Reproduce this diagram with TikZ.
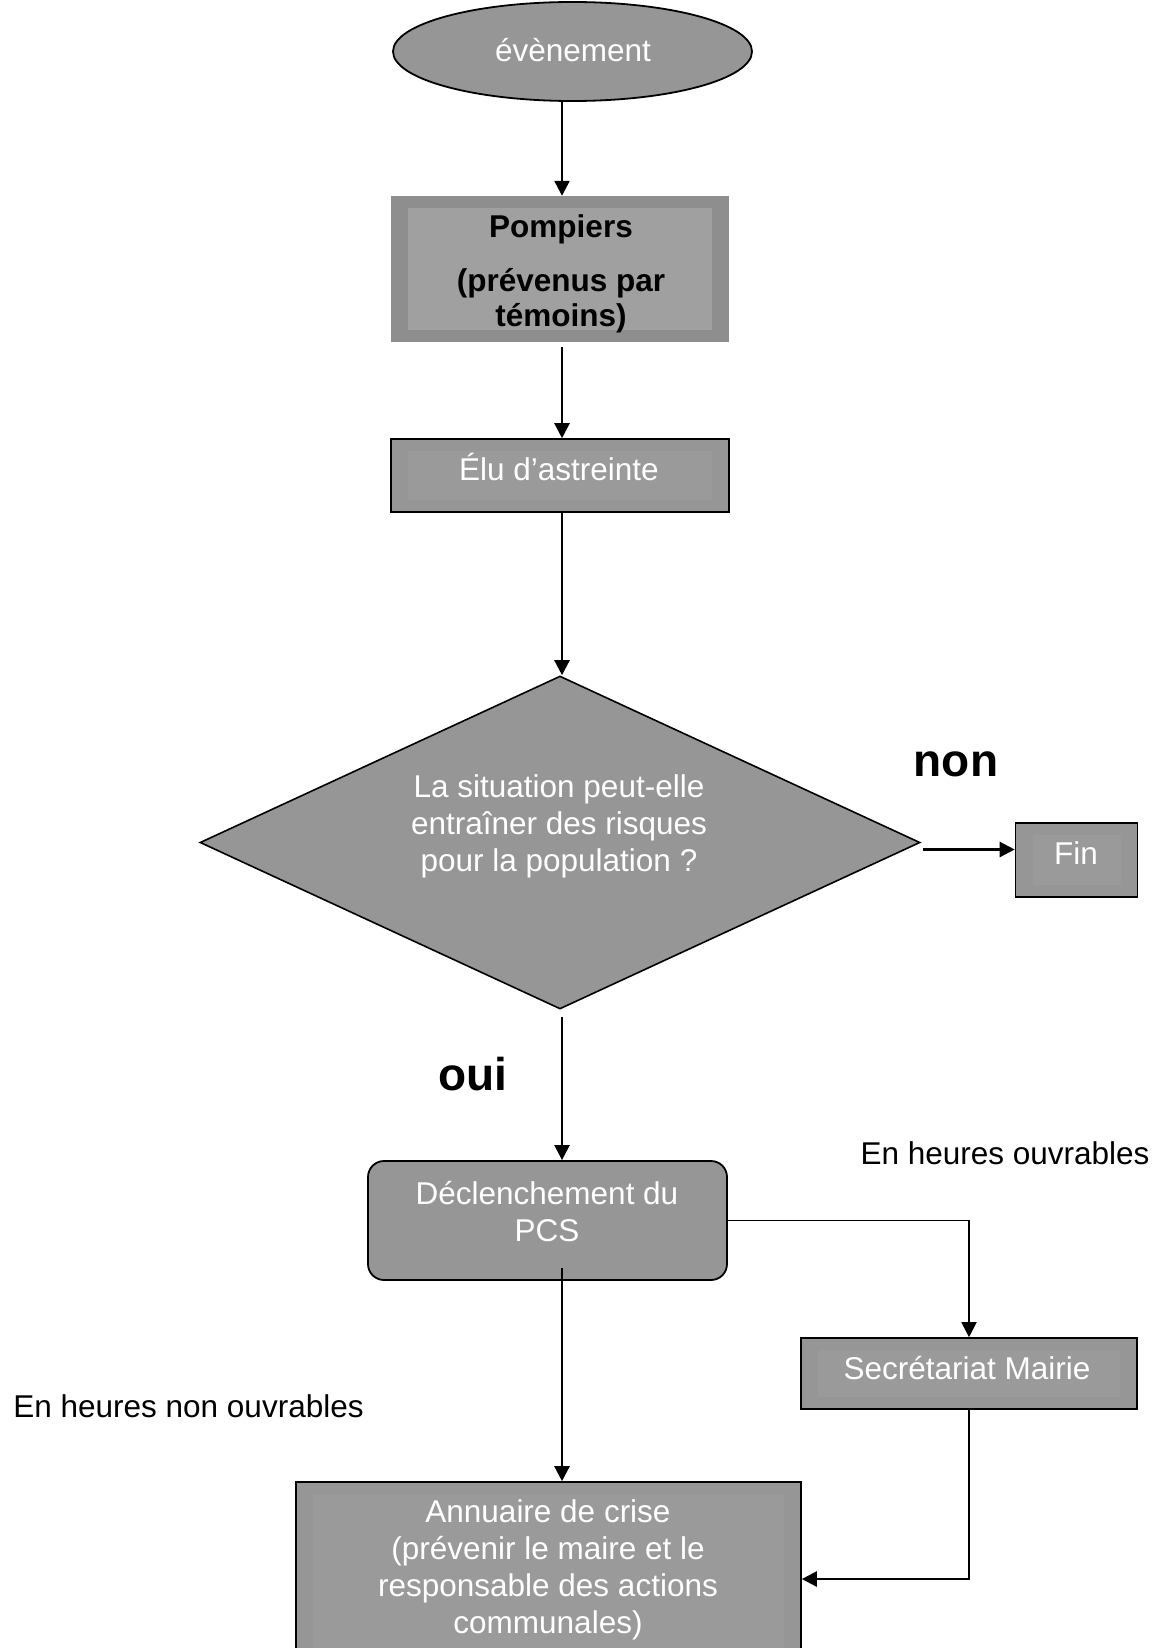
\documentclass[tikz,border=0pt]{standalone}
\usepackage{fontspec}
\setmainfont{Liberation Sans}
\usetikzlibrary{shapes.geometric,arrows.meta,calc}
\definecolor{boxgray}{RGB}{150,150,150}
\definecolor{innergray}{RGB}{154,154,154}
\definecolor{pompout}{RGB}{142,142,142}
\definecolor{pompin}{RGB}{160,160,160}
\tikzset{
  basefont/.style={font=\fontsize{31.5}{37}\selectfont},
  gbox/.style={draw=black, line width=1.6pt, fill=boxgray, inner sep=0pt,
    path picture={\fill[innergray] ([xshift=17pt,yshift=-12pt]path picture bounding box.north west) rectangle ([xshift=-17pt,yshift=12pt]path picture bounding box.south east);}},
  wtxt/.style={basefont, text=white, align=center, inner sep=0pt},
  btxt/.style={basefont, text=black, align=center, inner sep=0pt},
  bigbold/.style={font=\fontsize{46}{50}\selectfont\bfseries, inner sep=0pt},
  arr/.style={line width=2.4pt, -{Triangle[length=15pt,width=15pt]}},
}
\begin{document}
\begin{tikzpicture}[x=1pt,y=-1pt]
\useasboundingbox (0,0) rectangle (1159,1648);
\clip (0,0) rectangle (1159,1648);
\fill[white] (0,0) rectangle (1159,1648);
\coordinate (cx) at (562,0);

% event
\node[ellipse, draw=black, line width=1.8pt, fill=boxgray, minimum width=359pt, minimum height=99pt, inner sep=0pt] (ev) at (572.5,51.5) {};
\node[wtxt] (evt) at (573,50) {évènement};

% Pompiers
\node[rectangle, fill=pompout, minimum width=338pt, minimum height=146pt, inner sep=0pt,
  path picture={\fill[pompin] ([xshift=17pt,yshift=-12pt]path picture bounding box.north west) rectangle ([xshift=-17pt,yshift=12pt]path picture bounding box.south east);}] (pomp) at (560,269) {};
\node[btxt, font=\fontsize{31.5}{35}\selectfont\bfseries] (pompt) at (561,274) {Pompiers\\[19pt](prévenus par\\témoins)};

% Elu
\node[gbox, minimum width=338pt, minimum height=73pt] (elu) at (560,475.5) {};
\node[wtxt] (elut) at (559,467) {Élu d’astreinte};

% Diamond
\node[diamond, draw=black, line width=1.6pt, fill=boxgray, aspect=2.16, minimum width=720pt, minimum height=333pt, inner sep=0pt] (dia) at (560,842.5) {};
\node[wtxt] (diat) at (559,826) {La situation peut-elle\\entraîner des risques\\pour la population ?};

% Fin
\node[gbox, minimum width=122pt, minimum height=74pt] (fin) at (1076.5,860) {};
\node[wtxt] (fint) at (1076,853) {Fin};

% PCS
\node[rectangle, rounded corners=16pt, draw=black, line width=1.8pt, fill=boxgray, minimum width=359pt, minimum height=119pt, inner sep=0pt] (pcs) at (547.5,1220.5) {};
\node[wtxt] (pcst) at (547,1212) {Déclenchement du\\PCS};

% Secretariat
\node[gbox, minimum width=336pt, minimum height=71pt] (sec) at (969,1373.5) {};
\node[wtxt] (sect) at (967,1368) {Secrétariat Mairie};

% Annuaire
\node[gbox, minimum width=505pt, minimum height=194pt] (annu) at (548.5,1579) {};
\node[wtxt] (annut) at (548,1570) {Annuaire de crise\\(prévenir le maire et le\\responsable des actions\\communales)};

% labels
\node[bigbold] (non) at (956,764) {non};
\node[bigbold] (oui) at (473,1074) {oui};
\node[btxt] (ho) at (1005,1153) {En heures ouvrables};
\node[btxt] (hno) at (188.5,1406) {En heures non ouvrables};

% connectors
\draw[arr] (ev.south -| cx) -- (pomp.north -| cx);
\draw[arr, shorten <=5pt] (pomp.south -| cx) -- (elu.north -| cx);
\draw[arr] (elu.south -| cx) -- (dia.north -| cx);
\draw[arr, shorten <=7pt] (dia.south -| cx) -- (pcs.north -| cx);
\draw[arr] ([xshift=2pt,yshift=-7pt]dia.east) -- ([yshift=-7pt]dia.east -| fin.west);
\draw[line width=1.8pt, -{Triangle[length=15pt,width=15pt]}] (pcs.east) -| (sec.north);
\draw[arr] ([yshift=13pt]pcs.south -| cx) -- (annu.north -| cx);
\draw[arr] (sec.south) |- (annu.east);
\end{tikzpicture}
\end{document}
